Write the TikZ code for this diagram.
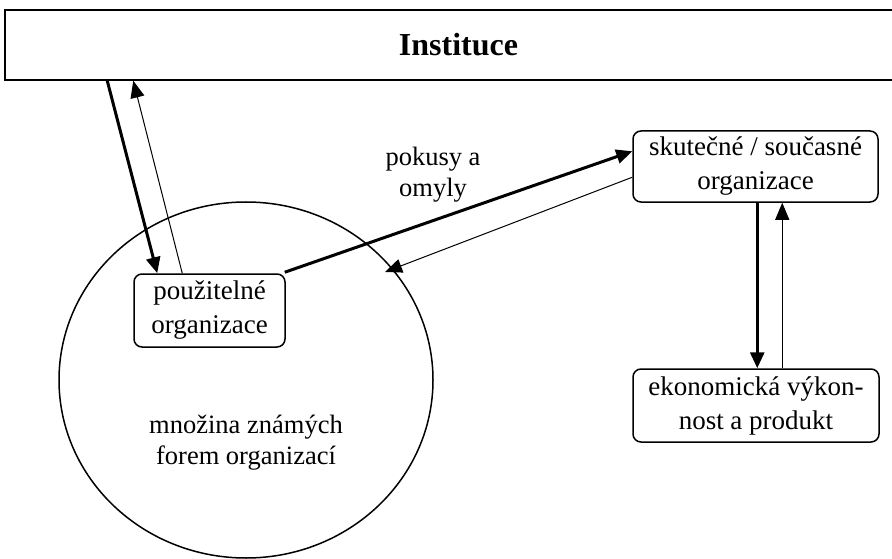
\documentclass[tikz,border=0pt]{standalone}
\usepackage{fontspec}
\setmainfont{Liberation Serif}
\usetikzlibrary{arrows.meta,calc,shapes.geometric}
\begin{document}
\begin{tikzpicture}[x=1pt,y=-1pt,
  box/.style={draw,line width=1.5pt,rounded corners=8pt,align=center,
    font=\fontsize{27}{34}\selectfont,inner sep=0pt},
  lbl/.style={align=center,font=\fontsize{26.5}{31}\selectfont,inner sep=0pt},
  thickarr/.style={line width=3pt,-{Triangle[length=16pt,width=14pt]}},
  thinarr/.style={line width=1pt,-{Triangle[length=17pt,width=14pt]}}]
\clip (0,0) rectangle (892,559);
\fill[white] (0,0) rectangle (892,559);
% Instituce
\node[draw,line width=1.5pt,minimum width=907pt,minimum height=70pt,inner sep=0pt,
  font=\fontsize{32}{36}\selectfont\bfseries] (inst) at (458.5,45) {Instituce};
% set of known forms
\node[draw,ellipse,line width=1.5pt,minimum width=374pt,minimum height=356pt] (set) at (246,380) {};
\node[lbl] (settext) at (246,443) {množina známých\\forem organizací};
% boxes
\node[box,minimum width=151pt,minimum height=73pt] (use) at (209.5,310.5) {použitelné\\organizace};
\node[box,minimum width=245pt,minimum height=71pt] (real) at (755.5,166.5) {skutečné / současné\\organizace};
\node[box,minimum width=246pt,minimum height=73pt] (econ) at (756,405.5) {ekonomická výkon-\\nost a produkt};
\node[lbl] (trial) at (433,175) {pokusy a\\omyly};
\coordinate (back) at (385,272);
% connectors
\draw[thickarr] ($(inst.south west)+(103,0)$) -- ($(use.north west)+(24,0)$);
\draw[thinarr] ($(use.north west)+(49,0)$) -- ($(inst.south west)+(129,0)$);
\draw[thickarr] ($(use.north east)+(-1,-1)$) -- ($(real.north west)+(0,21)$);
\draw[thinarr] ($(real.north west)+(0,47)$) -- (back);
\draw[thickarr] ($(real.south west)+(125,0)$) -- ($(econ.north west)+(125,0)$);
\draw[thinarr] ($(econ.north west)+(150,0)$) -- ($(real.south west)+(150,0)$);
\end{tikzpicture}
\end{document}
